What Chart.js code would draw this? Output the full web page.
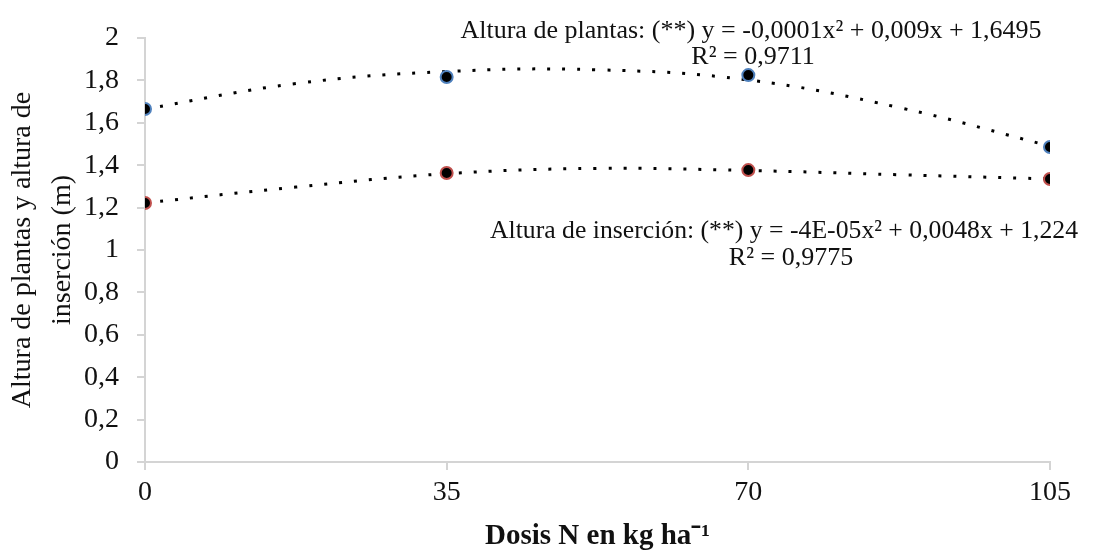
<!DOCTYPE html>
<html>
<head>
<meta charset="utf-8">
<script src="https://cdn.jsdelivr.net/npm/chart.js@4/dist/chart.umd.min.js"></script>
<style>
    html, body { margin: 0; padding: 0; background: #fff; }
    #wrap { width: 1093px; height: 551px; }
</style>
</head>
<body>
<div id="wrap"><canvas id="chart" width="1093" height="551"></canvas></div>
<script>
// measured points
const doses = [0, 35, 70, 105];
const alturaPlantas = [1.665, 1.816, 1.825, 1.486];
const alturaInsercion = [1.222, 1.363, 1.377, 1.335];

// dotted trend lines
const trendX = [0, 17.5, 35, 52.5, 70, 87.5, 105];
const trendPlantas = [1.665, 1.785, 1.842, 1.85, 1.802, 1.672, 1.49];
const trendInsercion = [1.222, 1.297, 1.36, 1.385, 1.375, 1.355, 1.335];

const xTicks = [0, 35, 70, 105];
const yTicks = [0, 0.2, 0.4, 0.6, 0.8, 1, 1.2, 1.4, 1.6, 1.8, 2];

const eqPlantas = ['Altura de plantas: (**) y = -0,0001x² + 0,009x + 1,6495', 'R² = 0,9711'];
const eqInsercion = ['Altura de inserción: (**) y = -4E-05x² + 0,0048x + 1,224', 'R² = 0,9775'];

const serif = '"Liberation Serif", "Times New Roman", serif';
const axisGrey = '#d4d4d4';

const toPoints = (xs, ys) => xs.map((x, i) => ({ x, y: ys[i] }));
const comma = v => String(parseFloat(Number(v).toFixed(1))).replace('.', ',');

// equation labels, squeezed like the original's narrow Times
const equations = {
    id: 'equations',
    afterDraw(chart) {
        const { ctx } = chart;
        ctx.save();
        ctx.fillStyle = '#111';
        ctx.textAlign = 'center';
        ctx.textBaseline = 'alphabetic';
        ctx.font = `26px ${serif}`;
        ctx.fillText(eqPlantas[0], 751, 38, 584);
        ctx.fillText(eqPlantas[1], 753, 64, 126);
        ctx.fillText(eqInsercion[0], 784, 238, 588);
        ctx.fillText(eqInsercion[1], 791, 265, 128);
        ctx.restore();
    }
};

new Chart(document.getElementById('chart'), {
    type: 'scatter',
    data: {
        datasets: [
            {
                label: 'Altura de plantas',
                data: toPoints(doses, alturaPlantas),
                pointRadius: 6,
                pointBorderWidth: 2,
                pointBackgroundColor: '#000',
                pointBorderColor: '#4f81bd',
                showLine: false
            },
            {
                label: 'Altura de inserción',
                data: toPoints(doses, alturaInsercion),
                pointRadius: 6,
                pointBorderWidth: 2,
                pointBackgroundColor: '#000',
                pointBorderColor: '#c0504d',
                showLine: false
            },
            {
                label: 'Tendencia plantas',
                data: toPoints(trendX, trendPlantas),
                showLine: true,
                pointRadius: 0,
                borderColor: '#000',
                borderWidth: 3,
                borderDash: [3, 12],
                tension: 0.4
            },
            {
                label: 'Tendencia inserción',
                data: toPoints(trendX, trendInsercion),
                showLine: true,
                pointRadius: 0,
                borderColor: '#000',
                borderWidth: 3,
                borderDash: [3, 12],
                tension: 0.4
            }
        ]
    },
    plugins: [equations],
    options: {
        responsive: false,
        animation: false,
        layout: { padding: { top: 38, right: 43, left: 0, bottom: 0 } },
        plugins: {
            legend: { display: false },
            tooltip: { enabled: false }
        },
        scales: {
            x: {
                type: 'linear',
                min: 0,
                max: 105,
                afterBuildTicks: scale => { scale.ticks = xTicks.map(value => ({ value })); },
                afterFit: scale => { scale.height = 89; },
                border: { color: axisGrey, width: 2 },
                grid: { drawOnChartArea: false, drawTicks: true, tickLength: 8, color: axisGrey, lineWidth: 2 },
                ticks: { color: '#111', padding: 6, font: { family: serif, size: 28 } },
                title: {
                    display: true,
                    text: 'Dosis N en kg ha⁻¹',
                    color: '#111',
                    padding: { top: 0, bottom: 0 },
                    font: { family: serif, size: 29, weight: 'bold', lineHeight: 1 }
                }
            },
            y: {
                min: 0,
                max: 2,
                afterBuildTicks: scale => { scale.ticks = yTicks.map(value => ({ value })); },
                afterFit: scale => { scale.width = 145; },
                border: { color: axisGrey, width: 2 },
                grid: { drawOnChartArea: false, drawTicks: true, tickLength: 8, color: axisGrey, lineWidth: 2 },
                ticks: { color: '#111', padding: 18, callback: comma, font: { family: serif, size: 28 } },
                title: {
                    display: true,
                    text: ['Altura de plantas y altura de', 'inserción (m)'],
                    color: '#111',
                    padding: { top: 3, bottom: 0 },
                    font: { family: serif, size: 28, lineHeight: 1.43 }
                }
            }
        }
    }
});
</script>
</body>
</html>
